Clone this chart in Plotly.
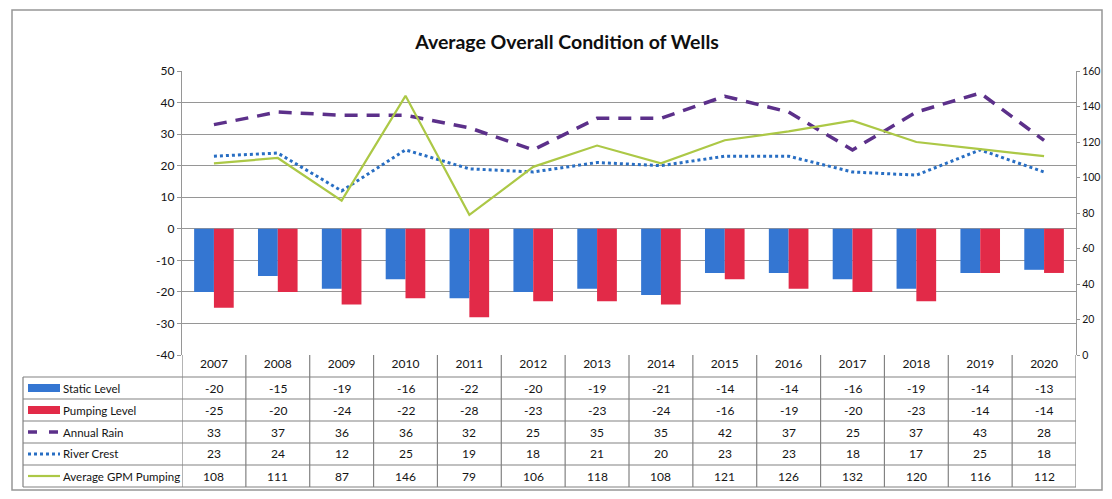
import plotly.graph_objects as go

years = ["2007","2008","2009","2010","2011","2012","2013","2014","2015","2016","2017","2018","2019","2020"]
static_level = [-20,-15,-19,-16,-22,-20,-19,-21,-14,-14,-16,-19,-14,-13]
pumping_level = [-25,-20,-24,-22,-28,-23,-23,-24,-16,-19,-20,-23,-14,-14]
annual_rain = [33,37,36,36,32,25,35,35,42,37,25,37,43,28]
river_crest = [23,24,12,25,19,18,21,20,23,23,18,17,25,18]
gpm_pumping = [108,111,87,146,79,106,118,108,121,126,132,120,116,112]

left_ticks = [-40,-30,-20,-10,0,10,20,30,40,50]
left_tick_labels = ["-40","-30","-20","-10","0","10","20","30","40","50"]

row_names = ["Static Level","Pumping Level","Annual Rain","River Crest","Average GPM Pumping"]
row_values = [static_level, pumping_level, annual_rain, river_crest, gpm_pumping]

OFF = 8  # page body margin
W, H = 1112 - 2 * OFF, 499 - 2 * OFF
L, R, T, B = 182, 1076, 71, 355  # plot area in window pixels
FONT = "Lato"
TXT = "rgb(20,20,20)"
C_BLUE = "rgb(52,118,210)"
C_RED = "rgb(226,42,72)"
C_PURPLE = "rgb(92,48,138)"
C_DOT = "rgb(40,110,195)"
C_GREEN = "rgb(172,200,70)"
GRID = "rgb(150,150,150)"
TBL = "rgb(130,130,130)"

def px(xp):
    return (xp - L) / (R - L)

def py(yp):
    return (B - yp) / (B - T)

fig = go.Figure()
fig.add_bar(x=years, y=static_level, name=row_names[0], marker_color=C_BLUE, marker_line_width=0)
fig.add_bar(x=years, y=pumping_level, name=row_names[1], marker_color=C_RED, marker_line_width=0)
fig.add_scatter(x=years, y=annual_rain, name=row_names[2], mode="lines",
                line=dict(color=C_PURPLE, width=3.5, dash="13px,9px"))
fig.add_scatter(x=years, y=river_crest, name=row_names[3], mode="lines",
                line=dict(color=C_DOT, width=3, dash="dot"))
fig.add_scatter(x=years, y=gpm_pumping, name=row_names[4], mode="lines", yaxis="y2",
                line=dict(color=C_GREEN, width=2.2))

shapes = []
annotations = []

shapes.append(dict(type="rect", xref="paper", yref="paper", x0=px(12), x1=px(1102), y0=py(10), y1=py(490),
                   line=dict(color="rgb(150,150,150)", width=1.5)))

row_top = 377
row_h = 22
n_rows = len(row_names)
table_bottom = row_top + row_h * n_rows
for i in range(n_rows + 1):
    yy = py(row_top + i * row_h)
    shapes.append(dict(type="line", xref="paper", yref="paper", x0=px(23), x1=1, y0=yy, y1=yy,
                       line=dict(color=TBL, width=1.2)))
shapes.append(dict(type="line", xref="paper", yref="paper", x0=px(23), x1=px(23), y0=py(row_top), y1=py(table_bottom),
                   line=dict(color=TBL, width=1.2)))
for i in range(len(years) + 1):
    shapes.append(dict(type="line", xref="x", yref="paper", x0=i - 0.5, x1=i - 0.5, y0=0, y1=py(table_bottom),
                       line=dict(color=TBL, width=1.2)))

sw0, sw1 = 28, 60
for i, name in enumerate(row_names):
    yc = row_top + i * row_h + row_h / 2
    if i in (0, 1):
        col = C_BLUE if i == 0 else C_RED
        shapes.append(dict(type="rect", xref="paper", yref="paper", x0=px(sw0), x1=px(sw1),
                           y0=py(yc + 4), y1=py(yc - 4), fillcolor=col, line=dict(width=0)))
    elif i == 2:
        shapes.append(dict(type="line", xref="paper", yref="paper", x0=px(sw0), x1=px(sw1), y0=py(yc), y1=py(yc),
                           line=dict(color=C_PURPLE, width=3.5, dash="9px,12px")))
    elif i == 3:
        shapes.append(dict(type="line", xref="paper", yref="paper", x0=px(sw0), x1=px(sw1), y0=py(yc), y1=py(yc),
                           line=dict(color=C_DOT, width=3, dash="dot")))
    else:
        shapes.append(dict(type="line", xref="paper", yref="paper", x0=px(sw0), x1=px(sw1), y0=py(yc), y1=py(yc),
                           line=dict(color=C_GREEN, width=2.2)))
    annotations.append(dict(text=name, xref="paper", yref="paper", x=px(sw1 + 1), y=py(yc),
                            xanchor="left", yanchor="middle", showarrow=False,
                            font=dict(family=FONT, size=11.5, color=TXT)))
    for j, v in enumerate(row_values[i]):
        annotations.append(dict(text=str(v), xref="x", yref="paper", x=j, y=py(yc),
                                xanchor="center", yanchor="middle", showarrow=False,
                                font=dict(family=FONT, size=12, color=TXT)))

fig.update_layout(
    width=W, height=H,
    margin=dict(l=L - OFF, r=W + OFF - R, t=T - OFF, b=H + OFF - B, pad=0, autoexpand=False),
    paper_bgcolor="white", plot_bgcolor="white",
    showlegend=False,
    barmode="group", bargap=0.38, bargroupgap=0,
    title=dict(text="<b>Average Overall Condition of Wells</b>", x=(567 - OFF) / W, xanchor="center",
               y=1 - (42 - OFF) / H, yanchor="middle", xref="container", yref="container",
               font=dict(family=FONT, size=19.5, color="rgb(15,15,15)")),
    font=dict(family=FONT, size=12, color=TXT),
    xaxis=dict(type="category", range=[-0.5, len(years) - 0.5], showgrid=False, zeroline=False,
               showline=False, ticks="", automargin=False, tickfont=dict(family=FONT, size=12, color=TXT)),
    yaxis=dict(range=[-40, 50], tickmode="array", tickvals=left_ticks, ticktext=left_tick_labels,
               showgrid=True, gridcolor=GRID, gridwidth=1.2, automargin=False,
               zeroline=False, showline=True, linecolor=GRID, linewidth=1.2,
               ticks="outside", ticklen=4, tickcolor=GRID,
               tickfont=dict(family=FONT, size=12, color=TXT)),
    yaxis2=dict(range=[0, 160], dtick=20, overlaying="y", side="right", showgrid=False, zeroline=False,
                showline=True, linecolor=GRID, linewidth=1.2, ticks="outside", ticklen=3, tickcolor=GRID,
                automargin=False, ticklabelstandoff=0,
                tickfont=dict(family=FONT, size=10.5, color=TXT)),
    shapes=shapes,
    annotations=annotations,
)

fig.write_html("out.html")
